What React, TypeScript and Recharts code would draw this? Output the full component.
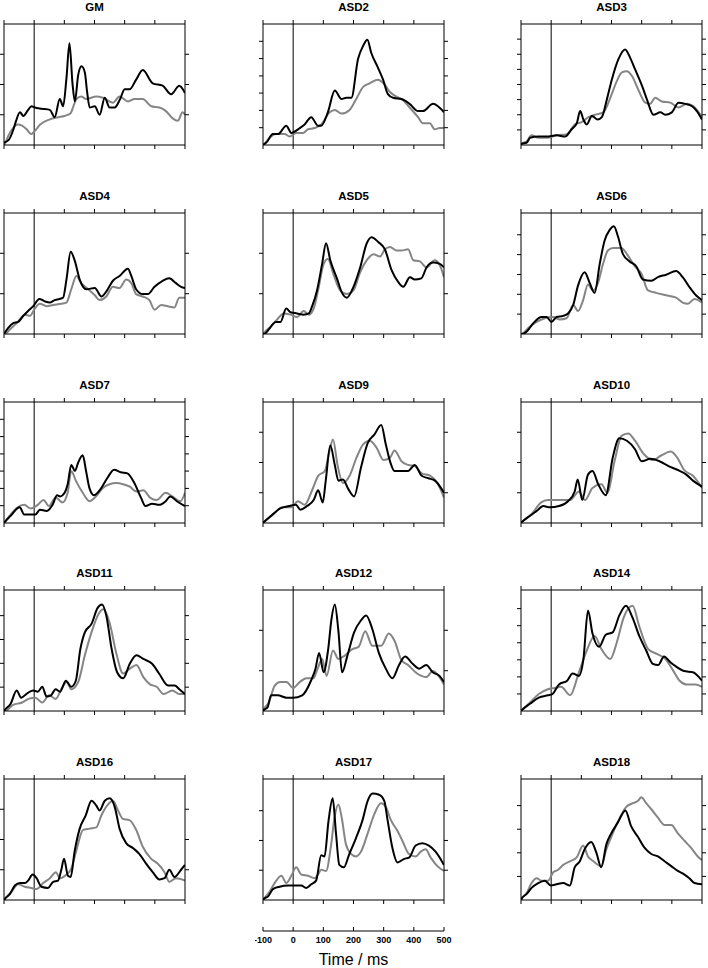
import { LineChart, Line, XAxis, YAxis, ReferenceLine } from "recharts";

// time axis (ms) and y ticks (percent of panel height)
const xTicks = [-100, 0, 100, 200, 300, 400, 500];

const gmBlack = [[-100,2],[-85,4],[-70,12],[-60,20],[-47,27],[-36,24],[-20,29],[-9,32],[2,31],[25,30],[52,29],[68,23],[85,38],[96,32],[107,55],[117,84],[127,51],[135,36],[146,58],[157,65],[168,60],[175,45],[184,31],[201,32],[217,25],[234,39],[250,31],[267,31],[285,38],[300,46],[316,46],[338,54],[360,62],[393,51],[426,49],[454,42],[481,49],[500,43]];
const gmGrey = [[-100,0],[-95,2],[-85,8],[-70,14],[-55,17],[-40,16],[-25,13],[-10,9],[0,11],[20,17],[50,21],[80,23],[100,24],[120,26],[130,32],[140,38],[156,40],[173,38],[206,40],[228,39],[261,35],[283,40],[311,36],[333,38],[360,38],[388,32],[415,31],[437,28],[459,22],[476,20],[492,27],[500,25]];

const asd2Black = [[-100,0],[-89,2],[-67,9],[-50,9],[-23,16],[-6,10],[22,14],[38,17],[60,23],[82,16],[93,16],[115,27],[138,45],[160,38],[176,39],[193,39],[215,71],[232,82],[246,87],[259,76],[281,64],[298,54],[314,42],[331,39],[359,38],[386,34],[414,28],[430,28],[464,34],[480,32],[500,27]];
const asd2Grey = [[-100,0],[-95,1],[-78,6],[-56,9],[-28,9],[-12,7],[10,10],[33,10],[49,13],[71,14],[93,17],[121,27],[138,29],[160,26],[187,29],[209,38],[232,48],[254,51],[281,54],[303,50],[320,44],[342,40],[364,37],[386,31],[414,23],[430,18],[453,18],[469,13],[486,14],[500,14]];

const asd3Black = [[-100,0],[-98,1],[-81,2],[-70,6],[-42,7],[-15,7],[18,8],[46,7],[68,13],[85,18],[96,28],[107,21],[118,17],[135,24],[154,21],[168,23],[185,38],[201,54],[223,71],[245,79],[262,72],[279,62],[301,49],[317,38],[339,25],[362,27],[378,25],[400,27],[422,35],[445,34],[467,32],[483,28],[500,21]];
const asd3Grey = [[-100,0],[-98,1],[-81,3],[-65,8],[-42,6],[-15,6],[18,8],[52,9],[79,17],[101,19],[124,23],[146,25],[173,27],[196,39],[218,53],[234,60],[251,61],[268,57],[290,45],[312,35],[328,34],[345,39],[367,36],[395,35],[422,31],[450,34],[472,32],[489,27],[500,23]];

const asd4Black = [[-100,0],[-86,5],[-69,9],[-53,10],[-36,15],[-20,19],[-3,23],[17,29],[35,27],[52,26],[68,28],[96,30],[107,45],[121,68],[134,61],[151,45],[173,37],[201,38],[223,31],[239,35],[261,44],[283,48],[311,54],[322,48],[338,37],[360,33],[377,33],[399,39],[426,44],[448,46],[470,42],[487,39],[500,38]];
const asd4Grey = [[-100,0],[-97,0],[-80,4],[-58,9],[-31,16],[-14,15],[2,21],[19,25],[41,23],[63,24],[90,25],[107,26],[123,37],[140,48],[156,42],[179,37],[201,32],[217,28],[239,31],[261,39],[283,38],[305,45],[322,42],[338,33],[360,31],[382,28],[399,20],[421,24],[443,23],[465,22],[481,30],[500,30]];

const asd5Black = [[-100,0],[-97,0],[-80,4],[-58,10],[-42,10],[-23,21],[-9,18],[13,17],[35,16],[52,17],[63,23],[79,36],[96,58],[109,75],[123,61],[145,46],[162,34],[178,30],[200,39],[222,55],[244,75],[260,80],[282,76],[304,70],[326,53],[348,43],[365,39],[387,47],[403,45],[425,46],[442,55],[464,59],[486,58],[500,55]];
const asd5Grey = [[-100,0],[-97,1],[-75,6],[-53,12],[-31,17],[-9,16],[13,14],[35,19],[52,16],[68,21],[85,39],[101,58],[115,62],[134,49],[156,36],[178,33],[200,36],[222,51],[244,61],[266,66],[288,64],[304,70],[321,72],[343,69],[359,69],[381,70],[398,61],[420,60],[442,55],[469,61],[486,57],[500,47]];

const asd6Black = [[-100,0],[-98,0],[-81,2],[-59,9],[-32,14],[-15,14],[1,10],[18,14],[40,15],[56,17],[73,24],[89,40],[111,51],[128,42],[144,34],[161,58],[177,77],[194,86],[208,89],[221,81],[238,66],[260,60],[282,56],[304,45],[332,44],[354,47],[381,49],[414,52],[436,47],[458,39],[480,32],[500,28]];
const asd6Grey = [[-100,0],[-98,0],[-76,5],[-48,10],[-21,13],[7,14],[29,12],[51,13],[73,24],[89,19],[106,28],[122,41],[139,36],[155,42],[172,58],[188,69],[205,71],[232,71],[254,65],[277,56],[299,50],[321,36],[348,34],[381,32],[414,30],[436,26],[453,25],[475,29],[500,26]];

const asd7Black = [[-100,0],[-97,1],[-78,6],[-48,13],[-33,7],[-11,7],[4,7],[19,11],[41,10],[61,15],[76,23],[86,22],[101,25],[111,32],[123,48],[135,43],[146,50],[161,56],[172,43],[183,29],[198,23],[220,28],[242,37],[265,44],[287,42],[309,41],[332,33],[354,21],[369,14],[391,16],[414,15],[436,18],[451,22],[473,18],[500,14]];
const asd7Grey = [[-100,0],[-97,1],[-78,7],[-55,13],[-33,15],[-11,12],[12,15],[31,19],[49,14],[71,21],[94,17],[111,25],[123,43],[138,35],[161,25],[183,18],[205,22],[228,29],[250,32],[272,33],[295,32],[317,30],[339,26],[362,27],[384,21],[406,19],[436,25],[458,22],[485,18],[500,25]];

const asd9Black = [[-100,0],[-96,1],[-73,6],[-43,12],[-14,14],[9,15],[24,11],[46,14],[68,19],[83,27],[98,17],[108,35],[123,64],[138,48],[150,35],[165,36],[183,28],[202,22],[225,46],[247,66],[269,73],[292,81],[307,65],[321,51],[336,43],[359,43],[381,43],[403,48],[426,39],[448,37],[470,35],[500,25]];
const asd9Grey = [[-100,0],[-96,1],[-66,7],[-36,13],[-6,13],[16,18],[38,15],[61,26],[83,39],[105,43],[120,59],[132,69],[147,48],[165,33],[187,39],[210,54],[232,65],[254,68],[277,62],[299,52],[321,54],[336,60],[359,51],[381,48],[403,47],[426,41],[455,39],[478,33],[500,21]];

const asd10Black = [[-100,0],[-96,1],[-70,6],[-48,10],[-26,14],[-4,13],[26,14],[56,18],[78,26],[88,36],[103,19],[122,40],[137,43],[156,32],[181,23],[204,54],[226,70],[251,68],[278,61],[300,51],[329,53],[359,51],[389,47],[418,44],[448,40],[470,35],[500,30]];
const asd10Grey = [[-100,0],[-96,1],[-63,8],[-33,17],[-11,19],[26,19],[63,19],[92,26],[112,19],[137,29],[167,32],[186,25],[211,52],[233,72],[255,74],[278,68],[307,57],[337,52],[366,56],[396,59],[418,54],[440,44],[470,39],[500,29]];

const asd11Black = [[-100,0],[-97,1],[-78,6],[-58,17],[-43,11],[-26,14],[-4,17],[12,16],[27,20],[41,12],[56,13],[71,18],[86,16],[105,25],[123,20],[138,25],[153,51],[168,65],[190,72],[210,85],[225,88],[239,79],[257,51],[275,32],[295,27],[317,39],[339,46],[362,43],[391,39],[414,31],[444,21],[466,21],[481,18],[500,14]];
const asd11Grey = [[-100,0],[-97,0],[-70,5],[-40,7],[-19,10],[4,11],[27,7],[49,13],[71,10],[94,20],[108,24],[123,18],[146,24],[168,46],[190,65],[213,80],[230,84],[250,73],[272,48],[295,31],[317,35],[339,38],[362,28],[384,22],[406,20],[429,14],[458,17],[481,14],[500,14]];

const asd12Black = [[-100,0],[-96,1],[-85,3],[-73,13],[-51,13],[-22,11],[0,11],[30,13],[59,25],[74,35],[86,48],[101,32],[116,51],[127,76],[138,88],[150,66],[162,32],[180,46],[202,65],[225,75],[242,79],[262,68],[284,48],[307,35],[329,27],[351,38],[371,45],[396,39],[418,35],[441,38],[463,32],[485,29],[500,24]];
const asd12Grey = [[-100,0],[-96,2],[-81,7],[-61,21],[-43,24],[-22,24],[0,19],[22,24],[44,27],[67,27],[81,35],[96,43],[111,29],[132,50],[150,43],[172,46],[195,51],[217,53],[239,66],[262,54],[292,54],[317,64],[336,58],[359,42],[381,38],[411,31],[441,28],[463,33],[485,28],[500,22]];

const asd14Black = [[-100,0],[-96,1],[-70,6],[-41,11],[-11,13],[4,14],[26,22],[53,25],[71,31],[92,29],[107,43],[122,83],[137,64],[159,53],[181,63],[204,65],[226,79],[248,87],[270,77],[292,62],[315,50],[337,39],[355,38],[374,45],[396,40],[418,36],[440,33],[470,32],[500,25]];
const asd14Grey = [[-100,0],[-96,1],[-70,7],[-41,14],[-11,18],[11,19],[33,20],[63,13],[92,32],[115,48],[144,62],[167,51],[196,43],[218,57],[240,77],[270,87],[292,70],[322,51],[352,47],[379,43],[403,34],[426,25],[448,22],[478,22],[500,20]];

const asd16Black = [[-100,0],[-97,1],[-80,5],[-64,12],[-47,14],[-31,14],[-20,16],[-5,21],[8,18],[24,11],[46,10],[63,15],[79,16],[90,25],[99,34],[112,20],[121,19],[134,40],[151,59],[171,70],[190,82],[206,78],[217,74],[234,82],[250,84],[267,77],[283,59],[305,47],[327,43],[349,38],[371,30],[393,23],[415,17],[432,18],[448,25],[465,19],[487,25],[500,29]];
const asd16Grey = [[-100,0],[-97,1],[-75,7],[-53,13],[-31,11],[-9,10],[8,9],[30,14],[52,18],[72,23],[85,18],[107,21],[123,26],[140,41],[162,58],[184,59],[206,60],[223,70],[245,79],[261,82],[278,74],[294,67],[316,66],[338,58],[360,44],[388,34],[410,30],[432,23],[448,15],[470,18],[500,16]];

const asd17Black = [[-100,0],[-97,1],[-83,3],[-67,9],[-45,11],[-17,12],[4,12],[27,12],[43,10],[60,13],[76,16],[93,37],[104,36],[117,65],[131,84],[142,55],[153,29],[168,27],[186,38],[208,51],[230,66],[247,82],[263,88],[285,87],[302,82],[313,66],[329,43],[346,31],[368,34],[384,35],[406,45],[428,47],[450,45],[472,40],[500,29]];
const asd17Grey = [[-100,0],[-97,1],[-78,7],[-56,16],[-39,20],[-23,14],[-6,20],[10,27],[27,21],[49,20],[71,18],[82,21],[93,25],[109,24],[126,46],[137,68],[150,79],[161,68],[175,46],[192,38],[208,36],[225,40],[247,55],[269,71],[291,80],[307,77],[324,66],[346,57],[362,49],[384,38],[406,36],[423,40],[439,42],[456,35],[478,28],[500,24]];

const asd18Black = [[-100,0],[-98,1],[-81,5],[-65,10],[-43,14],[-21,16],[-1,12],[18,13],[40,14],[62,12],[78,27],[95,32],[111,42],[133,48],[150,39],[166,27],[183,46],[199,55],[221,64],[246,74],[265,61],[288,52],[310,43],[332,38],[354,36],[376,32],[398,28],[420,24],[442,21],[458,18],[475,14],[500,13]];
const asd18Grey = [[-100,0],[-98,1],[-81,6],[-65,14],[-48,18],[-32,16],[-10,16],[7,23],[23,25],[40,29],[62,32],[84,35],[106,45],[122,36],[140,32],[166,28],[183,42],[199,52],[216,62],[232,70],[249,77],[271,80],[288,82],[299,85],[315,80],[332,75],[354,68],[376,62],[398,62],[420,55],[442,49],[464,43],[486,36],[500,33]];

const ticks4 = [25, 50, 75];
const ticks7 = [14.3, 28.6, 42.9, 57.1, 71.4, 85.7];
const ticks8 = [12.5, 25, 37.5, 50, 62.5, 75, 87.5];
const ticks3 = [33.3, 66.7];
const ticks6 = [16.4, 32.8, 49.2, 65.6, 82];
const ticks5 = [19.7, 39.4, 59.1, 78.8];

const panels = [
  { name: "GM", black: gmBlack, grey: gmGrey, yTicks: ticks4 },
  { name: "ASD2", black: asd2Black, grey: asd2Grey, yTicks: ticks7 },
  { name: "ASD3", black: asd3Black, grey: asd3Grey, yTicks: ticks8 },
  { name: "ASD4", black: asd4Black, grey: asd4Grey, yTicks: ticks3 },
  { name: "ASD5", black: asd5Black, grey: asd5Grey, yTicks: ticks3 },
  { name: "ASD6", black: asd6Black, grey: asd6Grey, yTicks: ticks6 },
  { name: "ASD7", black: asd7Black, grey: asd7Grey, yTicks: ticks7 },
  { name: "ASD9", black: asd9Black, grey: asd9Grey, yTicks: ticks4 },
  { name: "ASD10", black: asd10Black, grey: asd10Grey, yTicks: ticks4 },
  { name: "ASD11", black: asd11Black, grey: asd11Grey, yTicks: ticks5 },
  { name: "ASD12", black: asd12Black, grey: asd12Grey, yTicks: ticks3 },
  { name: "ASD14", black: asd14Black, grey: asd14Grey, yTicks: [14.1, 28.2, 42.3, 56.4, 70.5, 84.6] },
  { name: "ASD16", black: asd16Black, grey: asd16Grey, yTicks: ticks4 },
  { name: "ASD17", black: asd17Black, grey: asd17Grey, yTicks: [24.6, 49.2, 73.8] },
  { name: "ASD18", black: asd18Black, grey: asd18Grey, yTicks: [19.5, 39, 58.5, 78] },
];

const PW = 181;
const PH = 121;
const colLeft = [4, 263, 521];
const rowTop = [24, 213, 402, 590, 779];
const AX = 5; // axis box size
const MG = 3; // chart margin
const TS = 4; // tick length
const FONT = "'Liberation Sans', Arial, sans-serif";

const toPts = (a: number[][]) => a.map(([t, v]) => ({ t, v }));
const noLabel = () => <g />;

function Panel({ p, col, row, timeAxis }: any) {
  const bottomH = timeAxis ? 31 : AX;
  const extra = timeAxis ? 24 : 0;
  const w = PW + 2 * (AX + MG);
  const h = PH + 2 * MG + AX + bottomH + extra;
  return (
    <>
      <div
        style={{
          position: "absolute",
          left: colLeft[col],
          top: rowTop[row] - 24,
          width: PW,
          lineHeight: "15px",
          textAlign: "center",
          fontFamily: FONT,
          fontWeight: "bold",
          fontSize: 11.5,
        }}
      >
        {p.name}
      </div>
      <div style={{ position: "absolute", left: colLeft[col] - AX - MG, top: rowTop[row] - AX - MG }}>
        <LineChart width={w} height={h} margin={{ top: MG, right: MG, bottom: MG, left: MG }}>
          <XAxis
            dataKey="t"
            type="number"
            domain={[-100, 500]}
            allowDataOverflow
            ticks={xTicks}
            tick={noLabel}
            interval={0}
            tickSize={TS}
            height={bottomH}
            stroke="#000"
          />
          {timeAxis && (
            <XAxis
              xAxisId="lbl"
              dataKey="t"
              type="number"
              domain={[-100, 500]}
              allowDataOverflow
              ticks={xTicks}
              tickSize={-TS}
              tickMargin={10}
              interval={0}
              height={extra}
              stroke="#000"
              tick={{ fill: "#000", fontSize: 9, fontWeight: "bold", fontFamily: FONT }}
            />
          )}
          <XAxis
            xAxisId="top"
            dataKey="t"
            orientation="top"
            type="number"
            domain={[-100, 500]}
            allowDataOverflow
            ticks={xTicks}
            tick={noLabel}
            interval={0}
            tickSize={TS}
            height={AX}
            stroke="#000"
          />
          <YAxis
            type="number"
            domain={[0, 100]}
            allowDataOverflow
            ticks={p.yTicks}
            tick={noLabel}
            interval={0}
            tickSize={TS}
            width={AX}
            stroke="#000"
          />
          <YAxis
            yAxisId="r"
            orientation="right"
            type="number"
            domain={[0, 100]}
            allowDataOverflow
            ticks={p.yTicks}
            tick={noLabel}
            interval={0}
            tickSize={TS}
            width={AX}
            stroke="#000"
          />
          <ReferenceLine x={0} stroke="#000" strokeWidth={1} />
          {timeAxis && (
            // carries the shared time scale for the labelled axis; draws nothing
            <Line
              data={toPts(p.black)}
              xAxisId="lbl"
              dataKey="v"
              stroke="none"
              dot={false}
              activeDot={false}
              isAnimationActive={false}
            />
          )}
          <Line
            data={toPts(p.grey)}
            xAxisId="top"
            yAxisId="r"
            dataKey="v"
            type="monotone"
            stroke="#858585"
            strokeWidth={2}
            dot={false}
            isAnimationActive={false}
          />
          <Line
            data={toPts(p.black)}
            dataKey="v"
            type="monotone"
            stroke="#000"
            strokeWidth={2}
            dot={false}
            isAnimationActive={false}
          />
        </LineChart>
      </div>
    </>
  );
}

export default function App() {
  return (
    <div style={{ position: "absolute", left: 0, top: 0, width: 708, height: 968, background: "#fff" }}>
      {panels.map((p, i) => (
        <Panel key={p.name} p={p} col={i % 3} row={Math.floor(i / 3)} timeAxis={p.name === "ASD17"} />
      ))}
      <div
        style={{
          position: "absolute",
          left: colLeft[1],
          top: 950,
          width: PW,
          textAlign: "center",
          lineHeight: "20px",
          fontFamily: FONT,
          fontSize: 16,
        }}
      >
        Time / ms
      </div>
    </div>
  );
}
